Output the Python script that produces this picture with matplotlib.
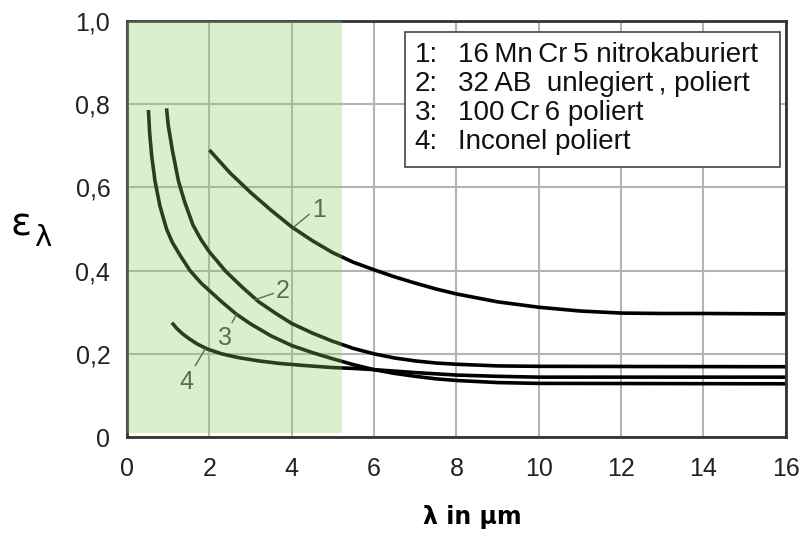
import matplotlib
matplotlib.use("Agg")
import matplotlib.pyplot as plt
from matplotlib.patches import Rectangle

plt.rcParams['font.family'] = ['Liberation Sans', 'DejaVu Sans']

# spectral emissivity curves, lambda in micrometre
x1 = [2.0, 2.5, 3.0, 3.5, 4.0, 4.5, 5.0, 5.5, 6.0, 6.5, 7.0, 7.5, 8.0, 9.0, 10.0, 11.0, 12.0, 13.0, 14.0, 16.0]
y1 = [0.69, 0.635, 0.588, 0.545, 0.505, 0.472, 0.443, 0.42, 0.402, 0.385, 0.37, 0.356, 0.344, 0.325,
      0.312, 0.303, 0.298, 0.297, 0.297, 0.296]

x2 = [0.96, 1.0, 1.1, 1.25, 1.4, 1.6, 1.8, 2.0, 2.4, 2.8, 3.2, 3.6, 4.0, 4.5, 5.0, 5.5, 6.0, 6.5,
      7.0, 7.5, 8.0, 9.0, 10.0, 16.0]
y2 = [0.79, 0.75, 0.69, 0.615, 0.565, 0.51, 0.474, 0.445, 0.398, 0.36, 0.325, 0.298, 0.273, 0.25,
      0.23, 0.213, 0.2, 0.19, 0.183, 0.178, 0.175, 0.171, 0.17, 0.169]

x3 = [0.52, 0.55, 0.6, 0.68, 0.8, 0.96, 1.1, 1.3, 1.53, 1.8, 2.0, 2.3, 2.66, 3.0, 3.5, 4.0, 4.5,
      5.0, 5.5, 6.0, 6.5, 7.0, 7.5, 8.0, 9.0, 10.0, 16.0]
y3 = [0.786, 0.73, 0.675, 0.615, 0.555, 0.5, 0.468, 0.435, 0.40, 0.37, 0.352, 0.325, 0.295, 0.272,
      0.243, 0.22, 0.203, 0.188, 0.174, 0.162, 0.153, 0.146, 0.14, 0.136, 0.131, 0.129, 0.128]

x4 = [1.09, 1.2, 1.35, 1.5, 1.7, 1.94, 2.3, 2.7, 3.2, 3.7, 4.3, 5.0, 5.5, 6.0, 7.0, 8.0, 9.0, 10.0, 16.0]
y4 = [0.275, 0.262, 0.248, 0.237, 0.224, 0.212, 0.2, 0.191, 0.183, 0.177, 0.172, 0.167, 0.165,
      0.162, 0.155, 0.149, 0.146, 0.144, 0.144]

legend_nums = ["1:", "2:", "3:", "4:"]
legend_names = ["16\u2009Mn\u2009Cr\u20095 nitrokaburiert", "32\u2009AB  unlegiert\u2009, poliert",
                "100\u2009Cr\u20096 poliert", "Inconel poliert"]

xticks = [0, 2, 4, 6, 8, 10, 12, 14, 16]
yticks = [0, 0.2, 0.4, 0.6, 0.8, 1.0]
ylabels = ["0", "0,2", "0,4", "0,6", "0,8", "1,0"]

fig = plt.figure(figsize=(8.06, 5.33), dpi=100)
ax = fig.add_axes([0.1576, 0.180, 0.8174, 0.7806])

for xs, ys in [(x1, y1), (x2, y2), (x3, y3), (x4, y4)]:
    ax.plot(xs, ys, color='black', lw=2.6, solid_capstyle='butt', zorder=2)

ax.set_xlim(0, 16)
ax.set_ylim(0, 1.0)
ax.set_xticks(xticks)
ax.set_yticks(yticks)
ax.set_yticklabels(ylabels)
ax.tick_params(length=0, labelsize=18, colors='#222222')
ax.tick_params(axis='x', pad=14)
ax.tick_params(axis='y', pad=12)
ax.grid(True, color='#b4b4b4', lw=1.5, zorder=0)
ax.set_axisbelow(True)
for s in ax.spines.values():
    s.set_color('#333333')
    s.set_linewidth(2)
    s.set_zorder(2.5)

# curve labels with small leader lines
lab_col = '#444444'
ax.plot([4.05, 4.42], [0.505, 0.535], color=lab_col, lw=1, zorder=2)
ax.text(4.5, 0.545, "1", fontsize=18, color=lab_col, va='center', ha='left', zorder=2)
ax.plot([3.1, 3.55], [0.33, 0.345], color=lab_col, lw=1, zorder=2)
ax.text(3.6, 0.35, "2", fontsize=18, color=lab_col, va='center', ha='left', zorder=2)
ax.plot([2.66, 2.55], [0.295, 0.275], color=lab_col, lw=1, zorder=2)
ax.text(2.38, 0.238, "3", fontsize=18, color=lab_col, va='center', ha='center', zorder=2)
ax.plot([1.9, 1.66], [0.212, 0.172], color=lab_col, lw=1, zorder=2)
ax.text(1.43, 0.133, "4", fontsize=18, color=lab_col, va='center', ha='center', zorder=2)

# shaded wavelength band drawn over the curves
ax.add_patch(Rectangle((0, 0.01), 5.22, 0.99, facecolor='#8bce67', alpha=0.31,
                       edgecolor='none', zorder=3))

# material key
ax.add_patch(Rectangle((6.75, 0.65), 9.1, 0.324, facecolor='white', edgecolor='#444444',
                       lw=1.2, zorder=4))
for i, (n, name) in enumerate(zip(legend_nums, legend_names)):
    yy = 0.918 - i * 0.0697
    ax.text(6.99, yy, n, fontsize=20, va='center', ha='left', color='#111111', zorder=5)
    ax.text(8.03, yy, name, fontsize=20, va='center', ha='left', color='#111111', zorder=5)

fig.text(0.026, 0.578, "\u03b5", fontsize=28, ha='center', va='center', family=['DejaVu Sans'])
fig.text(0.053, 0.553, "\u03bb", fontsize=21, ha='center', va='center', family=['DejaVu Sans'])
fig.text(0.586, 0.03, "\u03bb in \u03bcm", fontsize=17, fontweight='bold', ha='center', va='center',
         family=['DejaVu Sans'])

fig.savefig("out.png", dpi=100)
